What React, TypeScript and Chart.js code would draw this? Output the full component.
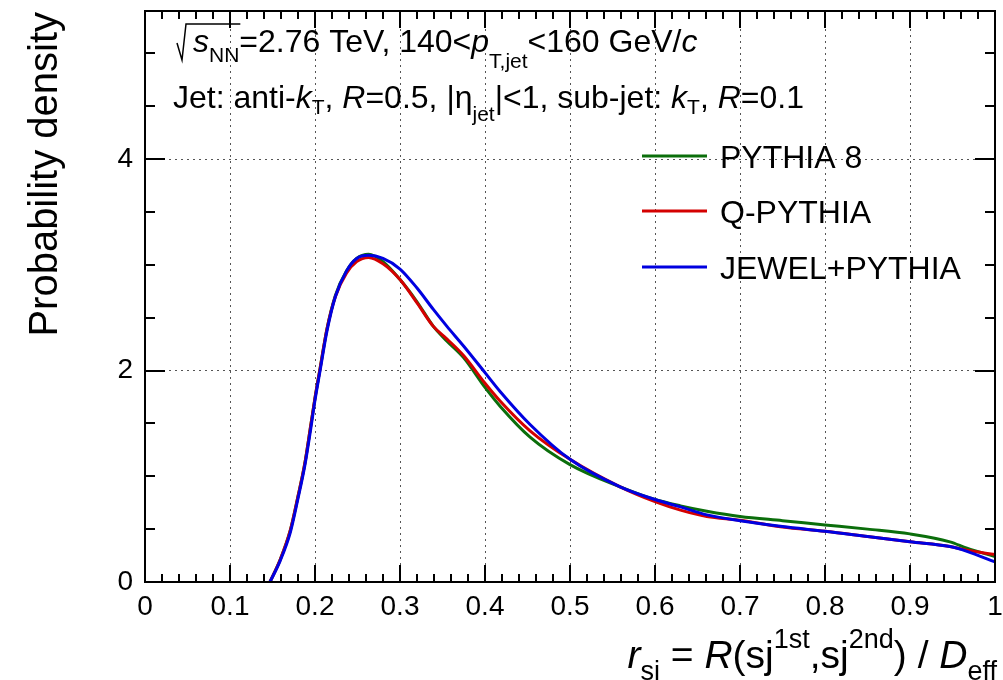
import { useEffect, useRef } from 'react';
import { Chart, registerables } from 'chart.js';

Chart.register(...registerables);

// ---- data ----
const R_SJ = [0.147, 0.159, 0.171, 0.18, 0.188, 0.195, 0.2, 0.206, 0.214, 0.224, 0.237, 0.249, 0.263, 0.28, 0.3, 0.32, 0.339, 0.355, 0.375, 0.4, 0.418, 0.453, 0.5, 0.559, 0.6, 0.63, 0.661, 0.7, 0.75, 0.8, 0.85, 0.9, 0.947, 0.967, 1.0];
const PYTHIA8 = [0, 0.21, 0.49, 0.81, 1.12, 1.48, 1.74, 2.02, 2.39, 2.71, 2.94, 3.06, 3.1, 3.03, 2.86, 2.65, 2.42, 2.28, 2.12, 1.84, 1.66, 1.37, 1.11, 0.9, 0.78, 0.72, 0.67, 0.62, 0.58, 0.54, 0.5, 0.455, 0.38, 0.32, 0.24];
const Q_PYTHIA = [0, 0.21, 0.49, 0.81, 1.12, 1.48, 1.74, 2.02, 2.39, 2.7, 2.92, 3.03, 3.07, 3.01, 2.86, 2.64, 2.42, 2.3, 2.14, 1.88, 1.71, 1.43, 1.16, 0.9, 0.76, 0.68, 0.62, 0.585, 0.52, 0.48, 0.43, 0.38, 0.335, 0.3, 0.26];
const JEWEL_PYTHIA = [0, 0.2, 0.47, 0.79, 1.1, 1.45, 1.72, 2.0, 2.37, 2.7, 2.94, 3.06, 3.09, 3.06, 2.96, 2.78, 2.58, 2.42, 2.23, 1.98, 1.8, 1.49, 1.16, 0.9, 0.78, 0.71, 0.635, 0.58, 0.525, 0.48, 0.43, 0.38, 0.335, 0.29, 0.19];
const SERIES_LABELS = ['PYTHIA 8', 'Q-PYTHIA', 'JEWEL+PYTHIA'];
const SERIES_COLORS = ['#0b6e0b', '#d40000', '#0000e0'];
const X_TICKS = [0, 0.1, 0.2, 0.3, 0.4, 0.5, 0.6, 0.7, 0.8, 0.9, 1];
const Y_TICKS = [0, 2, 4];

const FONT = '"Liberation Sans", Arial, Helvetica, sans-serif';

type Seg = { t: string; size: number; italic?: boolean; dy?: number };

function segFont(s: Seg) {
  return `${s.italic ? 'italic ' : ''}${s.size}px ${FONT}`;
}

function richWidth(ctx: CanvasRenderingContext2D, segs: Seg[]) {
  let w = 0;
  for (const s of segs) {
    ctx.font = segFont(s);
    w += ctx.measureText(s.t).width;
  }
  return w;
}

function drawRich(ctx: CanvasRenderingContext2D, segs: Seg[], x: number, y: number, align: 'left' | 'right' = 'left') {
  let cx = align === 'right' ? x - richWidth(ctx, segs) : x;
  const ends: number[] = [];
  ctx.textAlign = 'left';
  ctx.textBaseline = 'alphabetic';
  for (const s of segs) {
    ctx.font = segFont(s);
    ctx.fillText(s.t, cx, y + (s.dy || 0));
    cx += ctx.measureText(s.t).width;
    ends.push(cx);
  }
  return ends;
}

const decorPlugin = {
  id: 'rootDecor',
  afterDraw(chart: any) {
    const { ctx, chartArea } = chart;
    const { left, right, top, bottom } = chartArea;
    const xs = chart.scales.x;
    const ys = chart.scales.y;
    ctx.save();
    ctx.fillStyle = '#000';
    ctx.strokeStyle = '#000';

    // frame
    ctx.lineWidth = 2;
    ctx.strokeRect(left, top, right - left, bottom - top);

    // inward ticks, all four sides
    ctx.lineWidth = 2;
    ctx.beginPath();
    for (let i = 0; i <= 50; i++) {
      const v = i * 0.02;
      const px = Math.round(xs.getPixelForValue(v));
      const len = i % 5 === 0 ? 17 : 8;
      ctx.moveTo(px, bottom);
      ctx.lineTo(px, bottom - len);
      ctx.moveTo(px, top);
      ctx.lineTo(px, top + len);
    }
    for (let i = 0; i * 0.5 <= ys.max + 1e-9; i++) {
      const v = i * 0.5;
      const py = Math.round(ys.getPixelForValue(v));
      const len = i % 4 === 0 ? 20 : 10;
      ctx.moveTo(left, py);
      ctx.lineTo(left + len, py);
      ctx.moveTo(right, py);
      ctx.lineTo(right - len, py);
    }
    ctx.stroke();

    // legend
    const rows = [156, 211, 267];
    chart.data.datasets.forEach((ds: any, i: number) => {
      const y = rows[i];
      ctx.strokeStyle = ds.borderColor;
      ctx.lineWidth = 3;
      ctx.beginPath();
      ctx.moveTo(642, y);
      ctx.lineTo(707, y);
      ctx.stroke();
      ctx.fillStyle = '#000';
      ctx.font = `32px ${FONT}`;
      ctx.textAlign = 'left';
      ctx.textBaseline = 'alphabetic';
      ctx.fillText(ds.label, 720, y + 12);
    });

    // annotation line 1
    ctx.fillStyle = '#000';
    ctx.strokeStyle = '#000';
    const B = 32;
    const S = 21;
    const ends1 = drawRich(ctx, [
      { t: 's', size: B, italic: true },
      { t: 'NN', size: S, dy: 10 },
      { t: '=2.76 TeV, 140<', size: B },
      { t: 'p', size: B, italic: true },
      { t: 'T,jet', size: S, dy: 16 },
      { t: '<160 GeV/', size: B },
      { t: 'c', size: B, italic: true },
    ], 193, 52);
    // radical sign
    ctx.lineWidth = 1.5;
    ctx.beginPath();
    ctx.moveTo(177, 43);
    ctx.lineTo(182, 60);
    ctx.lineTo(186, 24);
    ctx.lineTo(ends1[1] + 1, 24);
    ctx.stroke();

    // annotation line 2
    drawRich(ctx, [
      { t: 'Jet: anti-', size: B },
      { t: 'k', size: B, italic: true },
      { t: 'T', size: S, dy: 6 },
      { t: ', ', size: B },
      { t: 'R', size: B, italic: true },
      { t: '=0.5, |η', size: B },
      { t: 'jet', size: S, dy: 13 },
      { t: '|<1, sub-jet: ', size: B },
      { t: 'k', size: B, italic: true },
      { t: 'T', size: S, dy: 6 },
      { t: ', ', size: B },
      { t: 'R', size: B, italic: true },
      { t: '=0.1', size: B },
    ], 173, 108);

    // x-axis title
    const T = 39;
    const U = 27;
    drawRich(ctx, [
      { t: 'r', size: T, italic: true },
      { t: 'sj', size: U, dy: 12 },
      { t: ' = ', size: T },
      { t: 'R', size: T, italic: true },
      { t: '(sj', size: T },
      { t: '1st', size: U, dy: -20 },
      { t: ',sj', size: T },
      { t: '2nd', size: U, dy: -20 },
      { t: ') / ', size: T },
      { t: 'D', size: T, italic: true },
      { t: 'eff', size: U, dy: 12 },
    ], 997, 668, 'right');

    // y-axis title
    ctx.save();
    ctx.translate(57, 12);
    ctx.rotate(-Math.PI / 2);
    ctx.font = `40px ${FONT}`;
    ctx.textAlign = 'right';
    ctx.textBaseline = 'alphabetic';
    ctx.fillText('Probability density', 0, 0);
    ctx.restore();

    ctx.restore();
  },
};

export default function App() {
  const ref = useRef<HTMLCanvasElement | null>(null);

  useEffect(() => {
    if (!ref.current) return;
    const series = [PYTHIA8, Q_PYTHIA, JEWEL_PYTHIA];
    const chart = new Chart(ref.current, {
      type: 'line',
      data: {
        datasets: series.map((vals, i) => ({
          label: SERIES_LABELS[i],
          data: R_SJ.map((x, j) => ({ x, y: vals[j] })),
          borderColor: SERIES_COLORS[i],
          backgroundColor: SERIES_COLORS[i],
          borderWidth: 3,
          pointRadius: 0,
          fill: false,
          cubicInterpolationMode: 'monotone',
          order: 2 - i,
        })),
      },
      options: {
        animation: false,
        responsive: false,
        devicePixelRatio: 1,
        events: [],
        layout: { padding: { top: 11, right: 8, left: 0, bottom: 0 } },
        plugins: { legend: { display: false }, tooltip: { enabled: false } },
        scales: {
          x: {
            type: 'linear',
            min: 0,
            max: 1,
            afterBuildTicks: (s: any) => {
              s.ticks = X_TICKS.map((v) => ({ value: v }));
            },
            afterFit: (s: any) => {
              s.height = 98;
              s.paddingLeft = 0;
              s.paddingRight = 0;
            },
            ticks: {
              autoSkip: false,
              maxRotation: 0,
              minRotation: 0,
              padding: 8,
              color: '#000',
              font: { family: FONT, size: 28 },
              callback: (v: any) => {
                const n = Number(v);
                return n === 0 || n === 1 ? String(n) : n.toFixed(1);
              },
            },
            grid: { display: true, drawTicks: false, color: '#555', lineWidth: 1 },
            border: { display: false, dash: [2, 4] },
          },
          y: {
            type: 'linear',
            min: 0,
            max: 5.4,
            afterBuildTicks: (s: any) => {
              s.ticks = Y_TICKS.map((v) => ({ value: v }));
            },
            afterFit: (s: any) => {
              s.width = 145;
              s.paddingTop = 0;
              s.paddingBottom = 0;
            },
            ticks: {
              padding: 12,
              color: '#000',
              font: { family: FONT, size: 28 },
              callback: (v: any) => String(v),
            },
            grid: { display: true, drawTicks: false, color: '#555', lineWidth: 1 },
            border: { display: false, dash: [2, 4] },
          },
        },
      },
      plugins: [decorPlugin],
    } as any);
    return () => chart.destroy();
  }, []);

  return (
    <div style={{ position: 'absolute', left: 0, top: 0, width: 1003, height: 680, background: '#fff' }}>
      <canvas ref={ref} width={1003} height={680} />
    </div>
  );
}
